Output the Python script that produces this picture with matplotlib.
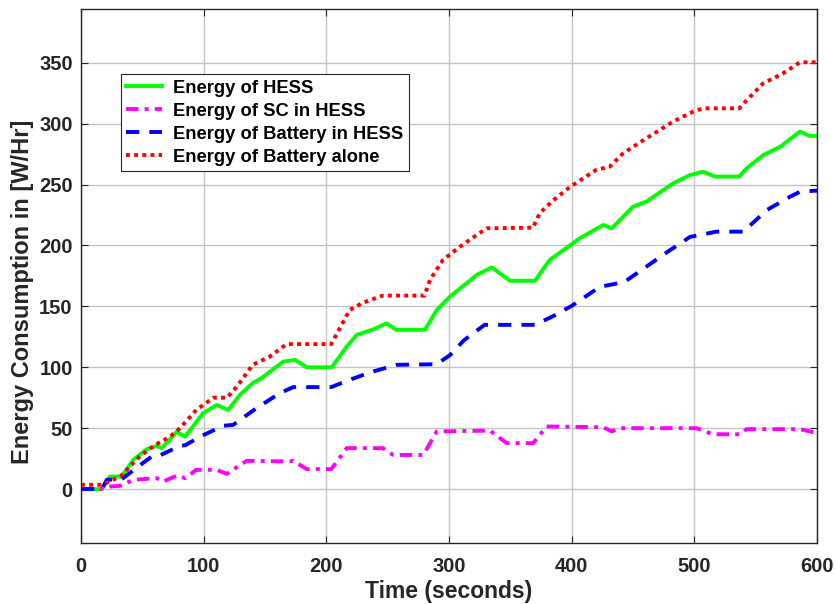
import matplotlib.pyplot as plt
import numpy as np

# tiempos y energias
t_hess = [0, 17, 23.6, 33, 42.6, 53.5, 61.7, 65.8, 78, 84.8, 99.5, 110.6, 120, 129.6, 140, 147,
          165, 174.5, 184, 204.4, 216.6, 224.8, 238, 249, 257, 280.4, 290, 300.8, 322.6, 334.8,
          341.5, 349.7, 370, 382, 398.6, 406.8, 425.8, 432.6, 450, 461, 482.8, 496.5, 507, 516.8,
          536.6, 542.6, 556, 570, 586, 594, 600]
e_hess = [0, 0, 10.3, 10.3, 24, 32.7, 35.5, 33.6, 47, 43, 62.3, 69, 65, 77.4, 87, 91,
          104.7, 106, 100, 100, 117, 126.6, 131, 136, 130.7, 130.7, 147, 158, 175.8, 182,
          177, 171, 171, 188, 200, 206, 216.8, 214, 231.8, 236, 251, 257.8, 260.5, 256.5,
          256.5, 263.3, 274, 281, 293.4, 289.8, 290]

t_sc = [0, 15.5, 22, 32, 42.6, 61.7, 67, 78, 85, 94, 110.6, 118.8, 124, 135, 170, 173, 184, 204,
        216.6, 246, 254.5, 279, 290, 333.4, 347, 368.5, 379.6, 425.8, 432.6, 439, 501.6, 515,
        537, 542.6, 586, 600]
e_sc = [0, 0, 2, 2.7, 7.6, 9, 6.2, 11, 9, 15.8, 15.8, 12.5, 16, 23.2, 22.7, 23.2, 16.4, 16.4,
        33.6, 33.6, 28, 28, 47.3, 48, 37.7, 37.7, 51.4, 50.8, 47.3, 50, 50, 45,
        45, 49.2, 49.2, 46]

t_bat = [0, 17, 21, 33, 46.6, 57.6, 63, 80.7, 85, 97, 116, 124, 143, 162, 173, 204, 219, 238,
         257.4, 290, 300.8, 312, 329, 370, 385, 400, 423, 443, 460, 480, 496.5, 518, 540, 559,
         578, 586, 600]
e_bat = [0, 0, 7.6, 8, 18.5, 26.7, 27, 35.5, 36, 43, 52, 52.7, 66.4, 78.7, 83.7, 83.7, 89.7, 96.5,
         102, 102.5, 110, 122, 134.8, 134.8, 142, 150.4, 166, 170, 182, 196, 207, 211.3, 211.3, 229,
         240, 244, 245]

t_alone = [0, 17, 32, 48, 60, 72.5, 80.7, 94, 108, 119, 127, 140, 154, 165, 168, 204, 219, 230,
           246, 280, 284.5, 295, 309, 322.6, 330.7, 368.5, 374, 385, 398.6, 420, 431, 442, 461,
           482.6, 499, 507, 536.6, 542.6, 556, 572, 586, 600]
e_alone = [3.5, 3.5, 10.3, 27, 36, 43, 50, 65, 75, 75, 84, 102, 108.8, 117, 119, 119, 147, 153,
           158.8, 158.8, 171.7, 188, 199, 208.6, 214, 214.6, 226.6, 237, 248, 262, 264.6, 275.7, 288,
           301.6, 309.8, 312.5, 312.5, 319, 333, 341, 350.3, 350.3]

plt.rcParams['font.family'] = ['Liberation Sans', 'DejaVu Sans']
plt.rcParams['font.weight'] = 'bold'

fig = plt.figure(figsize=(8.36, 6.04), dpi=100)
ax = fig.add_axes([0.0969, 0.1015, 0.8804, 0.8835])

lw = 2.8
ax.plot(t_hess, e_hess, color='#00ff00', lw=lw, label='Energy of HESS')
ax.plot(t_sc, e_sc, color='#ff00ff', lw=lw, dashes=(3.2, 1.6, 1, 1.6), label='Energy of SC in HESS')
ax.plot(t_bat, e_bat, color='#0000ff', lw=lw, dashes=(3.4, 2.6), label='Energy of Battery in HESS')
ax.plot(t_alone, e_alone, color='#ff0000', lw=lw, dashes=(1, 1.1), label='Energy of Battery alone')

ax.set_xlim(0, 600)
ax.set_ylim(-44, 394)
ax.set_xticks(np.arange(0, 601, 100))
ax.set_yticks(np.arange(0, 351, 50))
ax.grid(True, color='#c4c4c4', lw=1)
ax.set_axisbelow(True)
ax.tick_params(direction='in', length=5, top=True, right=True, labelsize=14.5,
               labelcolor='#262626', color='#262626')
ax.tick_params(axis='x', pad=10)
ax.tick_params(axis='y', pad=6)
for lab in ax.get_xticklabels() + ax.get_yticklabels():
    lab.set_fontweight('bold')
for s in ax.spines.values():
    s.set_color('#262626')
    s.set_linewidth(1)

ax.set_xlabel('Time (seconds)', fontsize=16.5, fontweight='bold', color='#262626', labelpad=3)
ax.set_ylabel('Energy Consumption in [W/Hr]', fontsize=17, fontweight='bold', color='#262626')
ax.yaxis.set_label_coords(-0.064, 0.47)

leg = ax.legend(loc='upper left', bbox_to_anchor=(0.0543, 0.878), fontsize=13.2, handlelength=1.95,
                labelspacing=0.33, borderpad=0.3, handletextpad=0.6, fancybox=False,
                framealpha=1, edgecolor='#262626', borderaxespad=0)
leg.get_frame().set_linewidth(0.8)
for txt in leg.get_texts():
    txt.set_fontweight('bold')

fig.savefig('out.png', dpi=100)
